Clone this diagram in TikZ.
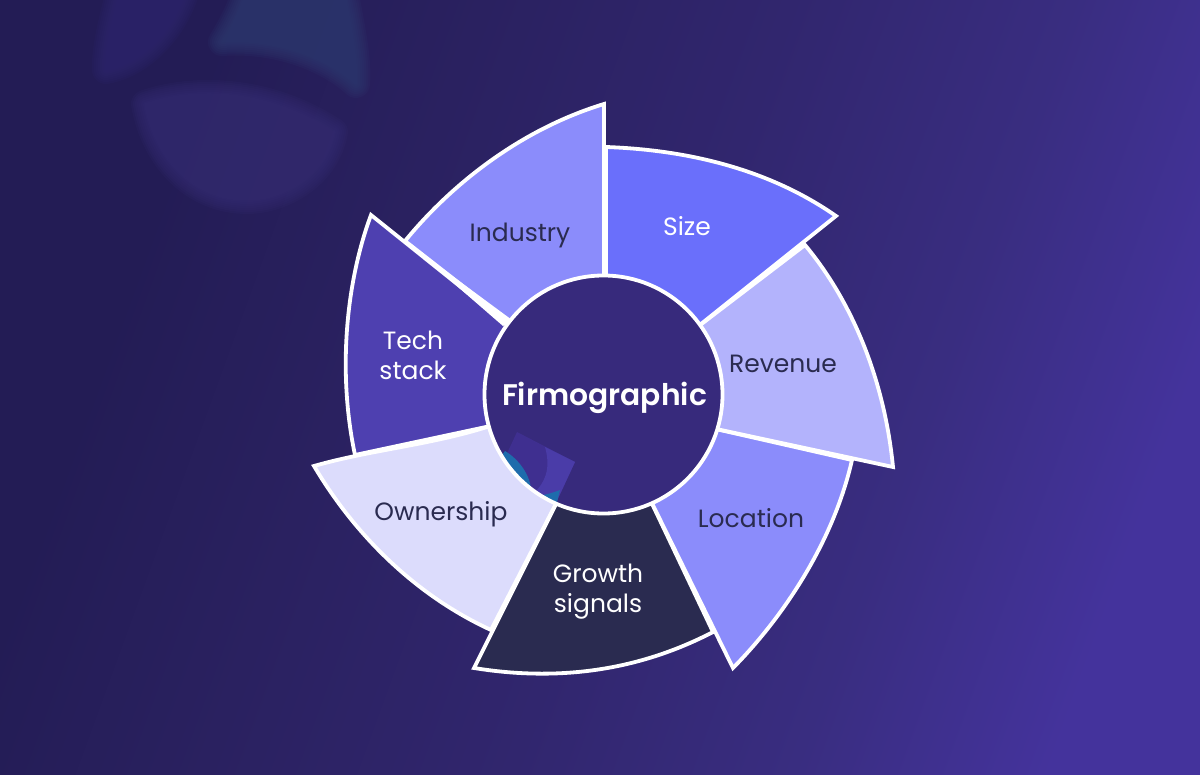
\documentclass[tikz,border=0pt]{standalone}
\usepackage{fontspec}
\setmainfont{Poppins}
\newfontfamily\hubfont{Poppins SemiBold}
\definecolor{bgA}{HTML}{231C55}
\definecolor{bgB}{HTML}{2A2160}
\definecolor{bgC}{HTML}{31266E}
\definecolor{bgD}{HTML}{392D80}
\definecolor{bgE}{HTML}{44339C}
\definecolor{hubC}{HTML}{372A7C}
\definecolor{inkC}{HTML}{2A2B50}
\definecolor{fIndustry}{HTML}{8B8CFB}
\definecolor{fSize}{HTML}{6A6FFB}
\definecolor{fRevenue}{HTML}{B3B3FC}
\definecolor{fTech}{HTML}{4E40B0}
\definecolor{fOwner}{HTML}{DCDCFC}
\definecolor{blobA}{HTML}{2F2770}
\definecolor{blobB}{HTML}{2F3C72}
\definecolor{blobC}{HTML}{362D74}
\definecolor{sqA}{HTML}{3F2F90}
\definecolor{sqB}{HTML}{4A3CA8}
\definecolor{sqC}{HTML}{1E6CAC}
\pgfdeclarehorizontalshading{bgshade}{100bp}{
  color(0bp)=(bgA); color(30bp)=(bgA); color(40bp)=(bgB); color(52bp)=(bgC); color(63bp)=(bgD); color(73bp)=(bgE); color(100bp)=(bgE)}
\tikzset{
  petal/.style={draw=white,line width=3.8pt,line join=miter,miter limit=10},
  lab/.style={font=\fontsize{25}{30}\selectfont,align=center,inner sep=0pt,text=inkC},
  labw/.style={lab,text=white}
}
\newcommand{\softblob}[2]{%
  \foreach \w in {28,24,20,16,12,8,4,0}{%
    \begin{scope}[transparency group,opacity=.15]
    \path[draw=#1,fill=#1,line join=round,line width=\w pt] #2;
    \end{scope}}}
\begin{document}
\begin{tikzpicture}[x=1pt,y=-1pt]
\useasboundingbox (0,0) rectangle (1200,775);
\begin{scope}
\clip (0,0) rectangle (1200,775);
\path[shading=bgshade,shading angle=-20] (-60,-60) rectangle (1260,835);
% blurred logo
\softblob{blobA}{(106,70) .. controls (105,40) and (118,5) .. (124,-30) -- (190,-30) .. controls (185,15) and (150,62) .. (106,70) -- cycle}
\softblob{blobB}{(222,42) .. controls (232,25) and (244,5) .. (252,-30) -- (340,-30) .. controls (352,30) and (358,60) .. (356,84) .. controls (330,60) and (280,38) .. (222,42) -- cycle}
\softblob{blobC}{(145,104) .. controls (185,90) and (260,84) .. (334,132) .. controls (326,176) and (282,200) .. (247,200) .. controls (195,200) and (155,160) .. (145,104) -- cycle}
\end{scope}
% petals
\fill[petal,fill=fIndustry] (604,104) .. controls (525,128) and (455,180) .. (405,241) -- (519,330) -- (604,290) -- cycle;
\fill[petal,fill=fTech] (371,215) .. controls (345,285) and (338,375) .. (355,455) -- (500,424) -- (517,332) -- cycle;
\fill[white] (405,241) -- (512,320) -- (503,326) -- cycle;
\fill[petal,fill=fOwner] (314,466) .. controls (355,535) and (415,595) .. (491,630) -- (562,492) -- (500,423) -- (487,427) .. controls (430,445) and (370,450) .. (314,466) -- cycle;
\fill[petal,fill=inkC] (474,668) .. controls (560,682) and (640,670) .. (713,632) -- (646,491) -- (562,492) -- cycle;
\fill[petal,fill=fIndustry] (852,460) .. controls (835,535) and (790,610) .. (733,668) -- (646,491) -- (707,427) -- cycle;
\fill[petal,fill=fRevenue] (805,245) .. controls (855,305) and (885,385) .. (893,467) -- (707,427) -- (691,332) -- cycle;
\fill[petal,fill=fSize] (606,147) .. controls (690,150) and (770,170) .. (836,216) -- (691,332) -- (606,290) -- cycle;
% hub
\node[circle,fill=hubC,minimum size=238pt,inner sep=0pt,outer sep=0pt] (hub) at (603.5,394.5) {};
\begin{scope}
\clip (603.5,394.5) circle (119);
\fill[sqA] (517,432) -- (575,462) -- (555,505) -- (497,475) -- cycle;
\fill[sqB] (545,447) -- (575,462) -- (555,505) -- (533,494) .. controls (548,480) and (550,465) .. (545,447) -- cycle;
\fill[sqC] (505,451) .. controls (520,460) and (530,476) .. (531,489) -- (510,490) -- (495,465) -- cycle;
\fill[sqC] (538,496) .. controls (545,495) and (552,493) .. (560,490) -- (555,510) -- (530,505) -- cycle;
\end{scope}
\draw[white,line width=3.8pt] (hub.center) circle (119);
% labels
\node[lab] (lIndustry) at (520,235) {Industry};
\node[labw] (lSize) at (687,226) {Size};
\node[lab] (lRevenue) at (783,364) {Revenue};
\node[lab] (lLocation) at (751,518) {Location};
\node[labw] (lGrowth) at (598,592) {Growth\\signals};
\node[lab] (lOwner) at (441,514) {Ownership};
\node[labw] (lTech) at (413,355) {Tech\\stack};
\node[text=white,font=\fontsize{29.8}{34}\selectfont\hubfont,inner sep=0pt] (lHub) at (604.5,398) {Firmographic};
\end{tikzpicture}
\end{document}
